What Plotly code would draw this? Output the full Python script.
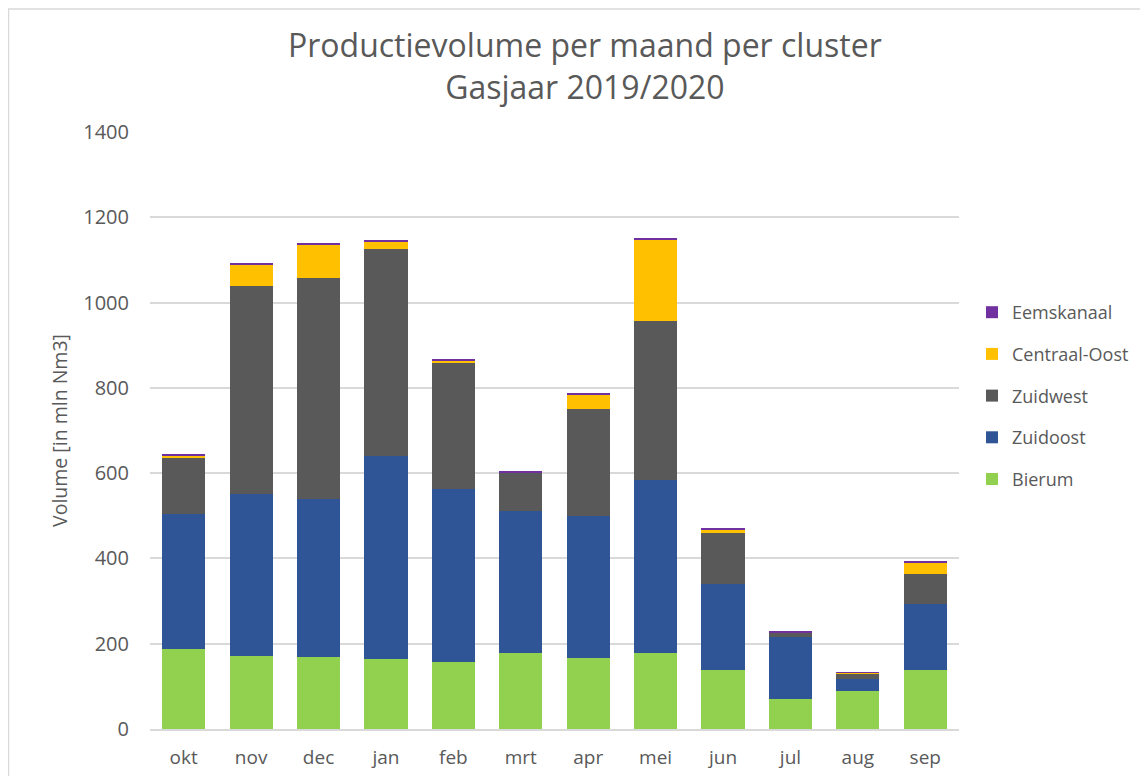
import plotly.graph_objects as go

months = ["okt", "nov", "dec", "jan", "feb", "mrt", "apr", "mei", "jun", "jul", "aug", "sep"]

bierum = [187, 172, 169, 163, 158, 179, 167, 179, 138, 71, 88, 138]
zuidoost = [317, 379, 370, 477, 404, 333, 333, 406, 201, 145, 29, 156]
zuidwest = [132, 489, 519, 485, 296, 90, 251, 372, 120, 10, 14, 69]
centraal_oost = [5, 50, 78, 19, 7, 0.5, 34, 192, 7, 0.5, 0.5, 27]
eemskanaal = [3, 2, 2, 3, 3, 2, 3, 3, 5, 1.5, 2, 2]

series = [
    ("Bierum", bierum, "#92D050"),
    ("Zuidoost", zuidoost, "#2F5597"),
    ("Zuidwest", zuidwest, "#595959"),
    ("Centraal-Oost", centraal_oost, "#FFC000"),
    ("Eemskanaal", eemskanaal, "#7030A0"),
]

FONT = "Open Sans"
TXT = "#595959"

fig = go.Figure()
n = len(series)
for i, (name, vals, col) in enumerate(series):
    fig.add_trace(go.Bar(x=months, y=vals, name=name, marker_color=col,
                         marker_line_width=0, legendgroup=name,
                         legendrank=100 * (n - i)))

W, H = 1148, 776
OFF = 8  # browser body margin offset
# target plot area in page pixels: x 150..959, y 132..729
L = 150 - OFF
T = 132 - OFF
R = W - (959 - OFF)
B = H - (729 - OFF)
pw, ph = W - L - R, H - T - B

def px_x(x):
    return (x - OFF - L) / pw

def px_y(y):
    return (H - B - (y - OFF)) / ph

fig.update_layout(
    width=W, height=H,
    margin=dict(l=L, r=R, t=T, b=B, autoexpand=False),
    barmode="stack", bargap=0.36,
    plot_bgcolor="white", paper_bgcolor="white",
    font=dict(family=FONT, color=TXT, size=18),
    showlegend=True,
    legend=dict(traceorder="grouped", tracegroupgap=15.3,
                x=px_x(972), xanchor="left", y=px_y(294), yanchor="top",
                font=dict(family=FONT, size=18, color=TXT),
                bgcolor="rgba(0,0,0,0)"),
    xaxis=dict(showgrid=False, showline=True, linecolor="#D9D9D9", linewidth=1.5,
               ticks="", ticklabelstandoff=10, tickfont=dict(size=19, color=TXT)),
    yaxis=dict(range=[0, 1400], dtick=200, showgrid=True, gridcolor="#D9D9D9",
               gridwidth=1.5, zeroline=False, ticks="", ticklen=0,
               ticklabelstandoff=20,
               tickfont=dict(size=20, color=TXT),
               title=dict(text="Volume [in mln Nm3]", standoff=10,
                          font=dict(size=19.5, color=TXT))),
    annotations=[dict(text="Productievolume per maand per cluster<br>Gasjaar 2019/2020",
                      xref="paper", yref="paper", x=px_x(585), y=px_y(66),
                      xanchor="center", yanchor="middle", showarrow=False,
                      font=dict(family=FONT, size=32, color=TXT))],
    shapes=[dict(type="rect", xref="paper", yref="paper",
                 x0=px_x(8.5), x1=px_x(1170), y0=px_y(800), y1=px_y(9),
                 line=dict(color="#D9D9D9", width=1.5), fillcolor="rgba(0,0,0,0)",
                 layer="below")],
)

fig.write_html("out.html")
